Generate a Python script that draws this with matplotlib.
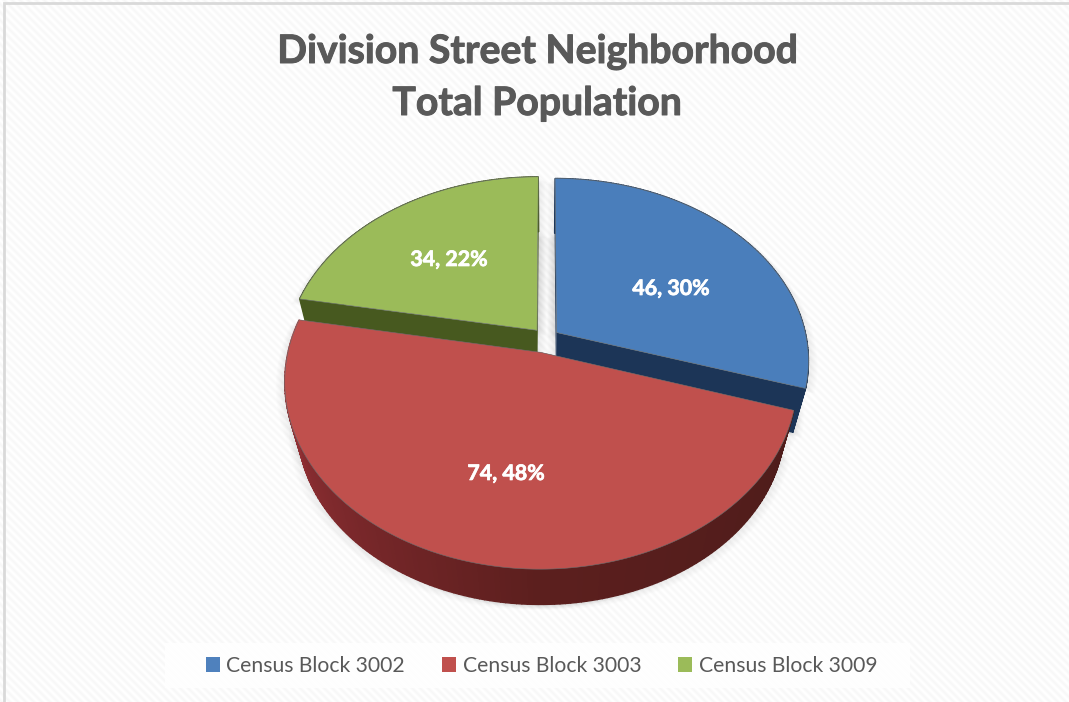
import numpy as np
import matplotlib
matplotlib.use("Agg")
import matplotlib.pyplot as plt
import matplotlib.patheffects as pe
from matplotlib.colors import to_rgb
from matplotlib.patches import Polygon, Patch, Rectangle

# Chart content
title_lines = ["Division Street Neighborhood", "Total Population"]
categories = ["Census Block 3002", "Census Block 3003", "Census Block 3009"]
values = [46, 74, 34]

# Styling per slice
top_colors = ["#4A7EBB", "#C0504D", "#9BBB59"]
wall_colors = ["#1C3557", "#8A2F2C", "#47591F"]
legend_colors = ["#4F81BD", "#C0504D", "#9BBB59"]
explode = [0.052, 0.082, 0.056]
label_xy = [(671, 289), (506, 474), (449, 260)]

# Outer-rim shading of the front slice: clockwise angle -> colour
rim_angles = [107, 180, 250, 281]
rim_shades = ["#4D1C1A", "#5C1F1E", "#8E2E33", "#AE3C3C"]

# Perspective of the disc in pixel space
CX, CY = 546.0, 338.0
A, B, K = 250.0, 179.0, 0.152
VY, T = 1275.0, 0.05

plt.rcParams["font.family"] = ["Lato", "DejaVu Sans"]

W, H = 1069, 702
fig = plt.figure(figsize=(W / 100, H / 100), dpi=100)
ax = fig.add_axes([0, 0, 1, 1])
ax.set_xlim(0, W)
ax.set_ylim(H, 0)
ax.axis("off")

# Diagonal pinstripe background
yy, xx = np.mgrid[0:H, 0:W]
wave = 0.5 + 0.5 * np.cos(2 * np.pi * (xx - yy) / 8.0)
shade = 0.968 + 0.032 * wave
ax.imshow(shade, cmap="gray", vmin=0, vmax=1, extent=(0, W, H, 0),
          interpolation="nearest", zorder=0, aspect="auto")
ax.plot([4, 4, W], [H, 3, 3], color="#D9D9D9", lw=2, zorder=1,
        solid_joinstyle="miter")


def project(x, y):
    w = 1 + K * y
    return CX + A * x / w, CY - B * y / w


def drop(pts):
    """Push top-face points down to the bottom face of the pie."""
    pts = np.asarray(pts, dtype=float)
    vanish = np.array([CX, VY])
    return pts + T * (vanish - pts)


def slice_geometry(start, end, e):
    mid = np.radians((start + end) / 2)
    ox, oy = e * np.sin(mid), e * np.cos(mid)
    th = np.linspace(start, end, 160)
    rad = np.radians(th)
    rim = np.column_stack(project(ox + np.sin(rad), oy + np.cos(rad)))
    apex = np.array(project(ox, oy))
    return apex, rim, th


total = sum(values)
edges = np.cumsum([0] + values) / total * 360.0
slices = [slice_geometry(edges[i], edges[i + 1], explode[i]) for i in range(len(values))]

# Soft drop shadow built from stacked translucent copies of the pie outline
for step in range(1, 10):
    for apex, rim, _ in slices:
        pts = np.vstack([apex, rim])
        base = drop(pts)
        for dx, dy in [(step, step * 0.6), (-step, step * 0.6)]:
            ax.add_patch(Polygon(pts + (dx, dy), closed=True, fc="black", ec="none",
                                 alpha=0.006, zorder=2))
            ax.add_patch(Polygon(base + (dx, dy), closed=True, fc="black", ec="none",
                                 alpha=0.006, zorder=2))

rim_rgb = np.array([to_rgb(c) for c in rim_shades])


def add_side_faces(i, zorder):
    apex, rim, th = slices[i]
    for end in (rim[0], rim[-1]):
        quad = np.array([apex, end, drop(end), drop(apex)])
        ax.add_patch(Polygon(quad, closed=True, fc=wall_colors[i], ec="none", zorder=zorder))
    low = drop(rim)
    for j in range(len(rim) - 1):
        if i == 1:
            col = tuple(np.interp(th[j], rim_angles, rim_rgb[:, k]) for k in range(3))
        else:
            col = wall_colors[i]
        quad = np.array([rim[j], rim[j + 1], low[j + 1], low[j]])
        ax.add_patch(Polygon(quad, closed=True, fc=col, ec=col, lw=1.0, zorder=zorder))


def add_top_face(i, zorder):
    apex, rim, _ = slices[i]
    ax.add_patch(Polygon(np.vstack([apex, rim]), closed=True, fc=top_colors[i],
                         ec="#6A6F70", lw=0.4, joinstyle="round", zorder=zorder))


# Back slices first, the large front slice last
add_side_faces(2, 3)
add_side_faces(0, 3)
add_top_face(2, 4)
add_top_face(0, 4)
add_side_faces(1, 5)
add_top_face(1, 6)


def bold_text(x, y, s, color, size, stroke):
    ax.text(x, y, s, color=color, fontsize=size, fontweight="bold", ha="center",
            va="center", zorder=8,
            path_effects=[pe.withStroke(linewidth=stroke, foreground=color)])


for v, (x, y) in zip(values, label_xy):
    bold_text(x, y, f"{v}, {round(v / total * 100)}%", "white", 15.4, 0.5)

bold_text(537, 51.5, title_lines[0], "#595959", 28.2, 0.7)
bold_text(537, 103.5, title_lines[1], "#595959", 28.2, 0.7)

# Legend on a white band
ax.add_patch(Rectangle((165, 643), 745, 45, fc="white", ec="none", alpha=0.85, zorder=7))
handles = [Patch(fc=c, ec="none") for c in legend_colors]
leg = ax.legend(handles, categories, ncol=3, loc="center",
                bbox_to_anchor=(541.5 / W, 1 - 665.5 / H), bbox_transform=fig.transFigure,
                frameon=False, fontsize=15.2, labelcolor="#595959",
                handlelength=0.68, handleheight=0.72, handletextpad=0.3,
                columnspacing=1.75, borderpad=0, borderaxespad=0)
leg.set_zorder(8)

fig.savefig("out.png", dpi=100)
